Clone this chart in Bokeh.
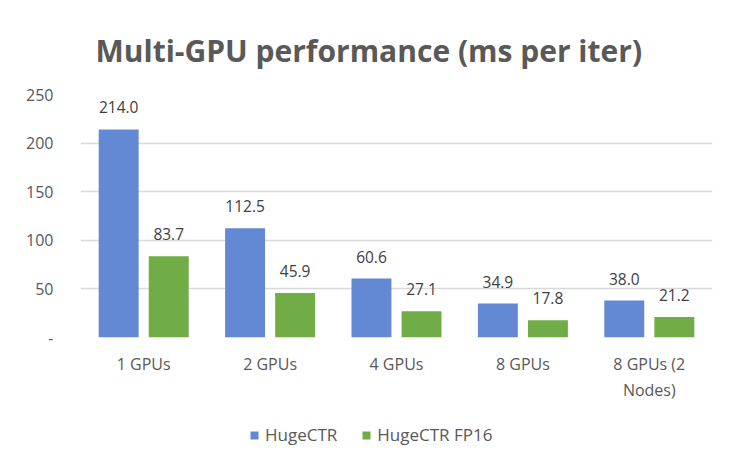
from bokeh.plotting import figure
from bokeh.layouts import column
from bokeh.models import (ColumnDataSource, FactorRange, FixedTicker, Legend, LegendItem,
                          LabelSet)
from bokeh.core.properties import value
from bokeh.transform import dodge
from bokeh.embed import file_html
from bokeh.resources import INLINE

categories = ["1 GPUs", "2 GPUs", "4 GPUs", "8 GPUs", "8 GPUs (2\nNodes)"]
hugectr = [214.0, 112.5, 60.6, 34.9, 38.0]
hugectr_fp16 = [83.7, 45.9, 27.1, 17.8, 21.2]
y_ticks = [0, 50, 100, 150, 200, 250]
y_tick_labels = ["-", "50", "100", "150", "200", "250"]
title_text = "Multi-GPU performance (ms per iter)"
series_names = ["HugeCTR", "HugeCTR FP16"]

FONT = "Open Sans"
BLUE = "#6389d4"
GREEN = "#70ad47"

src = ColumnDataSource(dict(
    cat=categories, a=hugectr, b=hugectr_fp16,
    al=[f"{v:.1f}" for v in hugectr], bl=[f"{v:.1f}" for v in hugectr_fp16],
))

p = figure(width=745, height=410, x_range=FactorRange(*categories), y_range=(0, 250),
           output_backend="svg", toolbar_location=None,
           min_border_left=80, min_border_right=33, min_border_top=94, min_border_bottom=73)
p.outline_line_color = None
p.background_fill_color = "white"
p.border_fill_color = "white"

p.title.text = title_text
p.title.align = "left"
p.title.text_font = FONT
p.title.text_font_style = "bold"
p.title.text_font_size = "30px"
p.title.text_color = "#595959"
p.title.standoff = 47
p.title.offset = 15

OFF = 0.198
W = 0.316
r1 = p.vbar(x=dodge("cat", -OFF, range=p.x_range), top="a", width=W, source=src,
            fill_color=BLUE, line_color=None)
r2 = p.vbar(x=dodge("cat", OFF, range=p.x_range), top="b", width=W, source=src,
            fill_color=GREEN, line_color=None)

for col, lab, off in (("a", "al", -OFF), ("b", "bl", OFF)):
    ls = LabelSet(x=dodge("cat", off, range=p.x_range), y=col, text=lab, source=src,
                  y_offset=16, text_align="center", text_baseline="bottom",
                  text_font=value(FONT), text_font_size=value("15.5px"), text_color="#404040")
    p.add_layout(ls)

p.yaxis.ticker = FixedTicker(ticks=y_ticks)
p.yaxis.major_label_overrides = {t: l for t, l in zip(y_ticks, y_tick_labels)}
p.yaxis.axis_line_color = None
p.yaxis.major_tick_line_color = None
p.yaxis.minor_tick_line_color = None
p.yaxis.major_label_standoff = 21
p.yaxis.major_label_text_font = FONT
p.yaxis.major_label_text_font_size = "16px"
p.yaxis.major_label_text_color = "#595959"

p.xaxis.axis_line_color = None
p.xaxis.major_tick_line_color = None
p.xaxis.major_label_standoff = 9
p.xaxis.major_label_text_font = FONT
p.xaxis.major_label_text_font_size = "16px"
p.xaxis.major_label_text_color = "#595959"
p.xgrid.grid_line_color = None
p.ygrid.grid_line_color = "#d9d9d9"
p.ygrid.grid_line_width = 1.5
p.ygrid.ticker = FixedTicker(ticks=y_ticks)

# legend strip below the chart (frame aligned with the chart's frame)
p2 = figure(width=745, height=62, x_range=(0, 1), y_range=(0, 1),
            output_backend="svg", toolbar_location=None,
            min_border_left=0, min_border_right=0, min_border_top=0, min_border_bottom=0)
p2.axis.visible = False
p2.grid.grid_line_color = None
p2.outline_line_color = None
p2.background_fill_color = "white"
p2.border_fill_color = "white"
key_src = ColumnDataSource(dict(x=[0.5], top=[0.0]))
l1 = p2.vbar(x="x", top="top", width=0, source=key_src, fill_color=BLUE, line_color=None)
l2 = p2.vbar(x="x", top="top", width=0, source=key_src, fill_color=GREEN, line_color=None)
legend = Legend(items=[LegendItem(label=series_names[0], renderers=[l1]),
                       LegendItem(label=series_names[1], renderers=[l2])],
                orientation="horizontal", location=(169, 26),
                label_text_font=FONT, label_text_font_size="17px", label_text_color="#595959",
                glyph_width=10, glyph_height=10, spacing=24, label_standoff=6,
                border_line_color=None, background_fill_alpha=0, margin=0, padding=0)
p2.add_layout(legend, "center")

layout = column(p, p2, spacing=0)
open("out.html", "w").write(file_html(layout, INLINE))
